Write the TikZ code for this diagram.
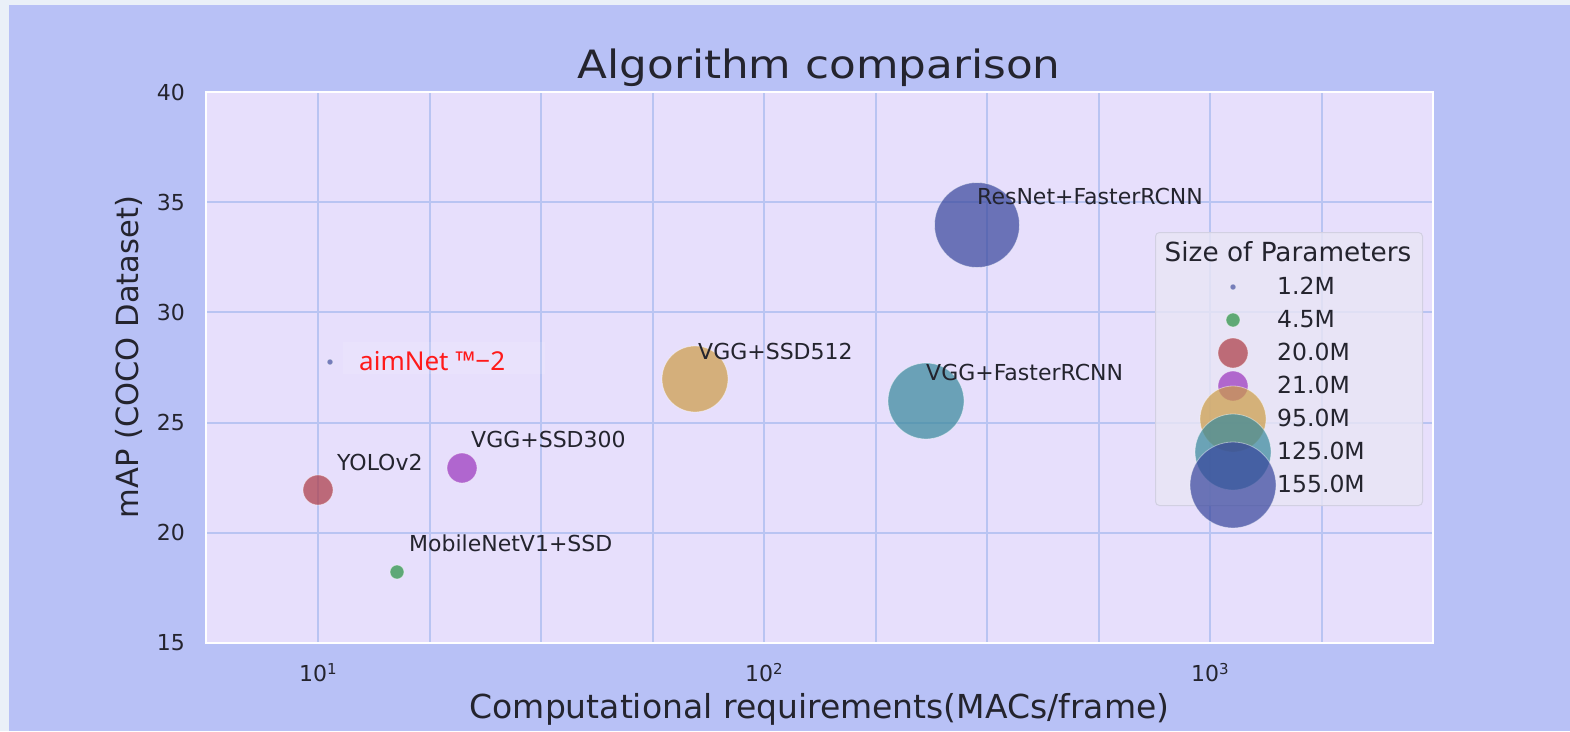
\documentclass[tikz,border=0pt]{standalone}
\usepackage{fontspec}
\setmainfont{DejaVu Sans}
\newfontfamily\notelabelfont{Noto Sans}

\definecolor{pagebg}{HTML}{EAF0F8}
\definecolor{figbg}{HTML}{B8C1F6}
\definecolor{axbg}{HTML}{E7DFFC}
\definecolor{gridc}{HTML}{B9C4F2}
\definecolor{ink}{HTML}{24242E}
\definecolor{legfill}{HTML}{E9E6F5}
\definecolor{legedge}{HTML}{D2D0E2}
\definecolor{cBlue}{RGB}{70,82,160}
\definecolor{cGreen}{RGB}{37,145,63}
\definecolor{cRed}{RGB}{171,56,66}
\definecolor{cPurple}{RGB}{153,51,189}
\definecolor{cTan}{RGB}{204,156,69}
\definecolor{cTeal}{RGB}{54,136,155}
\definecolor{cNavy}{RGB}{53,68,155}
\definecolor{noteRed}{HTML}{FF1A1A}

\begin{document}
\begin{tikzpicture}[x=1pt,y=-1pt,
  bubble/.style={circle, inner sep=0pt, minimum size=#1, fill opacity=0.7,
    draw=white, draw opacity=0.45, line width=0.8pt},
  gridline/.style={draw=gridc, line width=2pt},
  ptlabel/.style={anchor=base west, inner sep=0pt, text=ink,
    font=\fontsize{22}{26}\selectfont},
  ytick/.style={anchor=east, inner sep=0pt, text=ink,
    font=\fontsize{22}{26}\selectfont},
  xtick/.style={anchor=base, inner sep=0pt, text=ink,
    font=\fontsize{22}{26}\selectfont},
  legtext/.style={anchor=base west, inner sep=0pt, text=ink,
    font=\fontsize{23.5}{27}\selectfont}]

\useasboundingbox (0,0) rectangle (1570,731);

% figure background
\fill[pagebg] (0,0) rectangle (1570,731);
\fill[figbg] (9,5) rectangle (1570,731);

% axes area and grid
\fill[axbg] (206,92) rectangle (1433,643);
\foreach \gx in {318,429.5,541,652.5,764,875.5,987,1098.5,1210,1321.5}
  \draw[gridline] (\gx,92) -- (\gx,643);
\foreach \gy in {202.2,312.4,422.6,532.8}
  \draw[gridline] (206,\gy) -- (1433,\gy);
\draw[white, line width=2.5pt] (206,92) rectangle (1433,643);

% title and axis labels
\node[anchor=base, inner sep=0pt, text=ink, xscale=1.12,
  font=\fontsize{39}{44}\selectfont] (title) at (819,78) {Algorithm comparison};
\node[anchor=base, inner sep=0pt, text=ink,
  font=\fontsize{33}{38}\selectfont] (xlabel) at (819.5,718)
  {Computational requirements(MACs/frame)};
\node[anchor=base, inner sep=0pt, text=ink, rotate=90,
  font=\fontsize{30.5}{36}\selectfont] (ylabel) at (138,357)
  {mAP (COCO Dataset)};

% y tick labels
\foreach \v [count=\i from 0] in {40,35,30,25,20,15}
  \node[ytick] (yt\v) at (185,92+\i*110.2) {\v};

% x tick labels
\node[xtick] (xt1) at (318,681) {10\raisebox{7pt}{\fontsize{15}{15}\selectfont 1}};
\node[xtick] (xt2) at (764,681) {10\raisebox{7pt}{\fontsize{15}{15}\selectfont 2}};
\node[xtick] (xt3) at (1210,681) {10\raisebox{7pt}{\fontsize{15}{15}\selectfont 3}};

% data points
\node[bubble=6pt, fill=cBlue] (aim) at (330,362) {};
\node[bubble=30pt, fill=cRed] (yolo) at (318,490) {};
\node[bubble=30pt, fill=cPurple] (ssd300) at (462,468) {};
\node[bubble=14pt, fill=cGreen] (mobile) at (397,572) {};
\node[bubble=66pt, fill=cTan] (ssd512) at (695,379) {};
\node[bubble=76pt, fill=cTeal] (vggfrcnn) at (926,401) {};
\node[bubble=85pt, fill=cNavy] (resfrcnn) at (977,225) {};

% point labels
\fill[white, opacity=0.12] (343,342) rectangle (545,374);
\node[anchor=base west, inner sep=0pt, text=noteRed,
  font=\notelabelfont\fontsize{26}{30}\selectfont] (aimlab) at (359,370) {aimNet ™−2};
\node[ptlabel] (yololab) at (337,470) {YOLOv2};
\node[ptlabel] (ssd300lab) at (471,447) {VGG+SSD300};
\node[ptlabel] (mobilelab) at (409,551) {MobileNetV1+SSD};
\node[ptlabel] (ssd512lab) at (698,359) {VGG+SSD512};
\node[ptlabel] (vgglab) at (926,380) {VGG+FasterRCNN};
\node[ptlabel] (reslab) at (977,204) {ResNet+FasterRCNN};

% legend
\node[draw=legedge, fill=legfill, fill opacity=0.8, rounded corners=4pt,
  line width=1pt, minimum width=267pt, minimum height=273pt, inner sep=0pt,
  anchor=north west] (legend) at (1155,232) {};
\node[anchor=base, inner sep=0pt, text=ink,
  font=\fontsize{26.3}{30}\selectfont] (legtitle) at (1288,261) {Size of Parameters};
\node[bubble=6pt, fill=cBlue] (lm1) at (1233,287) {};
\node[bubble=14pt, fill=cGreen] (lm2) at (1233,320) {};
\node[bubble=30pt, fill=cRed] (lm3) at (1233,353) {};
\node[bubble=30pt, fill=cPurple] (lm4) at (1233,386) {};
\node[bubble=66pt, fill=cTan] (lm5) at (1233,419) {};
\node[bubble=76pt, fill=cTeal] (lm6) at (1233,452) {};
\node[bubble=86pt, fill=cNavy] (lm7) at (1233,485) {};
\node[legtext] (lt1) at (1277,294) {1.2M};
\node[legtext] (lt2) at (1277,327) {4.5M};
\node[legtext] (lt3) at (1277,360) {20.0M};
\node[legtext] (lt4) at (1277,393) {21.0M};
\node[legtext] (lt5) at (1277,426) {95.0M};
\node[legtext] (lt6) at (1277,459) {125.0M};
\node[legtext] (lt7) at (1277,492) {155.0M};
\end{tikzpicture}
\end{document}
